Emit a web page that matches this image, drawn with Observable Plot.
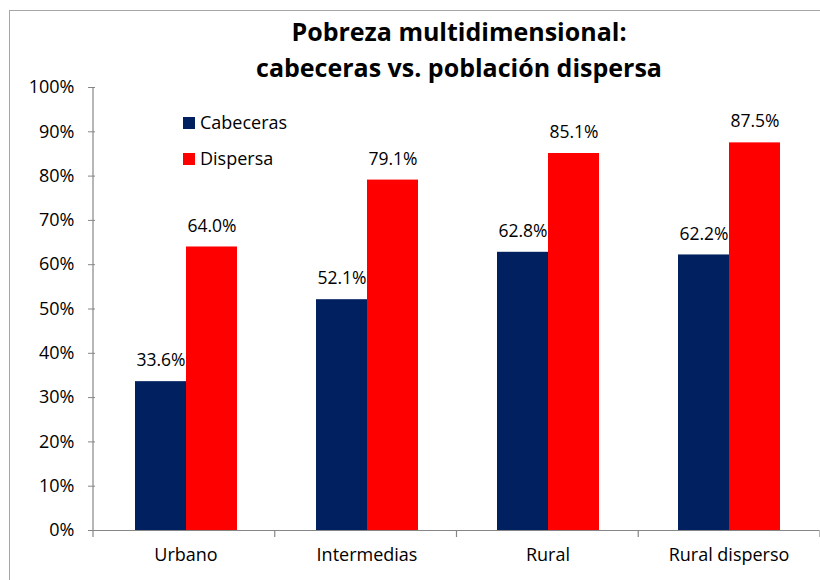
<!DOCTYPE html>
<html><head><meta charset="utf-8">
<script src="https://cdn.jsdelivr.net/npm/d3@7"></script>
<script src="https://cdn.jsdelivr.net/npm/@observablehq/plot@0.6"></script>
<style>
body{margin:0;background:#fff;font-family:"Open Sans",sans-serif;}
#wrap{position:relative;width:820px;height:580px;overflow:hidden;}
#border{position:absolute;left:9px;top:10px;width:900px;height:700px;border:1.5px solid #a6a6a6;box-sizing:border-box;}
#title{position:absolute;left:0;top:13px;width:918px;text-align:center;font-weight:700;font-size:25px;line-height:36px;color:#000;}
#chart{position:absolute;left:0;top:0;}
.leg{position:absolute;left:183px;font-size:18px;color:#000;}
.leg span{display:inline-block;width:12px;height:12px;margin-right:5px;vertical-align:middle;position:relative;top:-1px;}
</style></head>
<body>
<div id="wrap">
  <div id="border"></div>
  <div id="chart"></div>
  <div id="title">Pobreza multidimensional:<br>cabeceras vs. población dispersa</div>
  <div class="leg" id="leg1" style="top:110px"><span></span>Cabeceras</div>
  <div class="leg" id="leg2" style="top:146px"><span></span>Dispersa</div>
</div>
<script>
const categories = ["Urbano", "Intermedias", "Rural", "Rural disperso"];
const series = ["Cabeceras", "Dispersa"];
const cabeceras = [33.6, 52.1, 62.8, 62.2];
const dispersa = [64.0, 79.1, 85.1, 87.5];
const yTicks = [0, 10, 20, 30, 40, 50, 60, 70, 80, 90, 100];
const colors = ["#002060", "#ff0000"];

const data = categories.flatMap((c, i) => [
  {cat: c, serie: series[0], v: cabeceras[i]},
  {cat: c, serie: series[1], v: dispersa[i]}
]);

document.querySelector("#leg1 span").style.background = colors[0];
document.querySelector("#leg2 span").style.background = colors[1];

const axisGray = "#868686";

const chart = Plot.plot({
  width: 820, height: 580,
  marginLeft: 93, marginRight: 0, marginTop: 87, marginBottom: 50,
  style: {fontFamily: "'Open Sans', sans-serif", fontSize: "18px", background: "transparent", overflow: "visible", color: "#000"},
  fx: {domain: categories, padding: 0, label: null},
  x: {domain: series, paddingInner: 0, paddingOuter: 0.75, axis: null},
  y: {domain: [0, 100], label: null},
  color: {domain: series, range: colors},
  marks: [
    Plot.axisY({ticks: yTicks, tickFormat: d => d + "%", tickSize: 7, tickPadding: 14, stroke: axisGray, fill: "#000", fontSize: 18, label: null}),
    Plot.axisFx({anchor: "bottom", tickSize: 0, tickPadding: 18, fontSize: 18, fill: "#000", label: null}),
    Plot.barY(data, {fx: "cat", x: "serie", y: "v", fill: "serie"}),
    Plot.ruleY([0], {stroke: axisGray, strokeWidth: 1.2}),
    Plot.text(data, {fx: "cat", x: "serie", y: "v", text: d => d.v.toFixed(1) + "%", dy: -21, fontSize: 17.5, fill: "#000"})
  ]
});

// y axis line and between-category tick marks, placed via the chart's own scales
const fx = chart.scale("fx");
const y = chart.scale("y");
const y0 = y.apply(0), y100 = y.apply(100);
const g = d3.select(chart).append("g").attr("stroke", axisGray).attr("stroke-width", 1.2);
const x0 = fx.range[0];
const step = (fx.range[1] - fx.range[0]) / categories.length;
g.append("line").attr("x1", x0).attr("x2", x0).attr("y1", y100).attr("y2", y0 + 7);
for (let i = 1; i <= categories.length; i++) {
  const xi = x0 + i * step;
  g.append("line").attr("x1", xi).attr("x2", xi).attr("y1", y0).attr("y2", y0 + 7);
}

document.getElementById("chart").appendChild(chart);
</script>
</body></html>
